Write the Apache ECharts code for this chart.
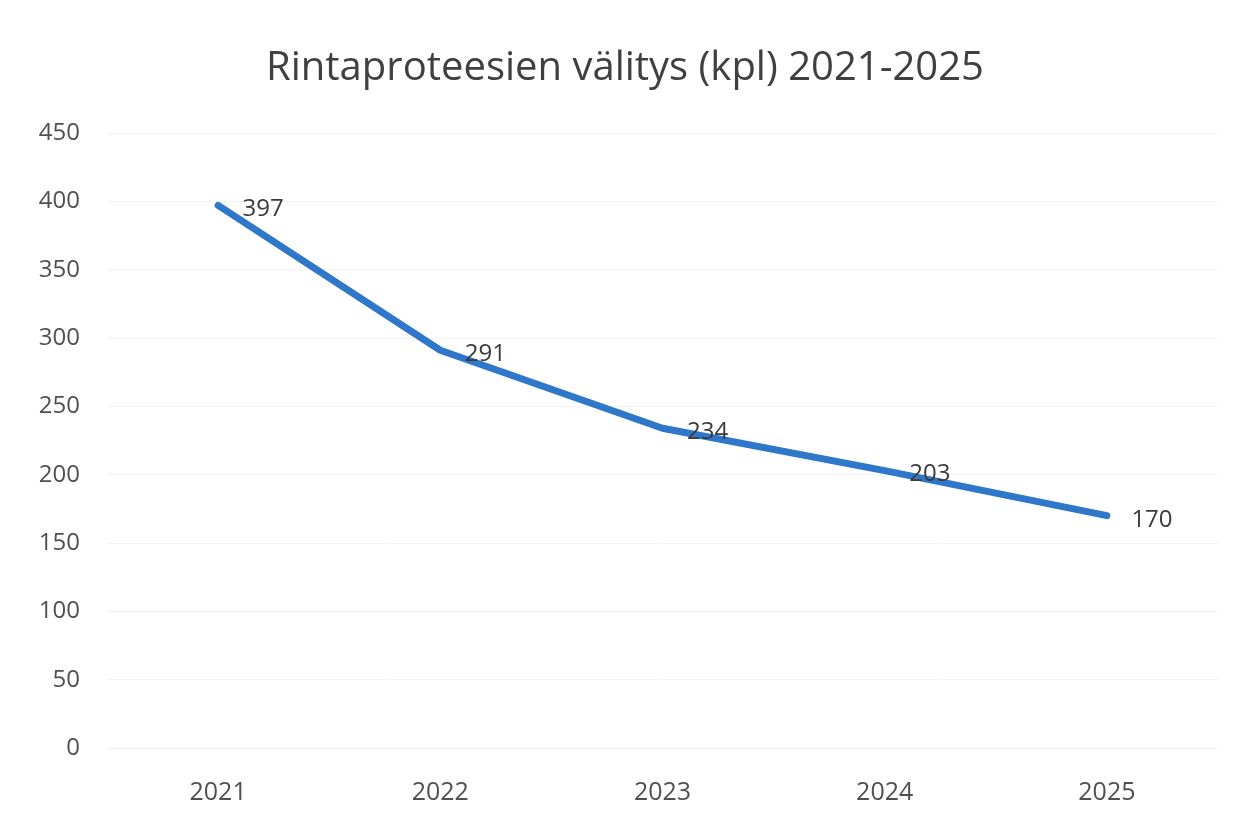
<!DOCTYPE html>
<html>
<head>
<meta charset="utf-8">
<script src="https://cdn.jsdelivr.net/npm/echarts@6/dist/echarts.min.js"></script>
<style>
  html, body { margin: 0; padding: 0; background: #fff; }
  #chart { width: 1250px; height: 825px; }
</style>
</head>
<body>
<div id="chart"></div>
<script>
// 数据
var years = ['2021', '2022', '2023', '2024', '2025']
var values = [397, 291, 234, 203, 170]
var yTicks = [0, 450, 50] // min, max, interval

var myChart = echarts.init(document.getElementById('chart'))
var options = {
  backgroundColor: '#ffffff',
  title: {
    text: 'Rintaproteesien välitys (kpl) 2021-2025',
    left: 'center',
    top: 44,
    textStyle: {
      fontFamily: 'Open Sans',
      fontWeight: 'normal',
      fontSize: 40,
      color: '#404040'
    }
  },
  grid: {
    left: 107,
    right: 32,
    top: 133,
    bottom: 77
  },
  xAxis: {
    type: 'category',
    data: years,
    boundaryGap: true,
    axisLine: { show: false },
    axisTick: { show: false },
    axisLabel: {
      color: '#505050',
      fontFamily: 'Open Sans',
      fontSize: 25,
      margin: 32
    }
  },
  yAxis: {
    type: 'value',
    min: yTicks[0],
    max: yTicks[1],
    interval: yTicks[2],
    axisLine: { show: false },
    axisTick: { show: false },
    axisLabel: {
      color: '#505050',
      fontFamily: 'Open Sans',
      fontSize: 24,
      margin: 27
    },
    // 极浅的网格线
    splitLine: {
      lineStyle: { color: '#f3f3f3', width: 1 }
    }
  },
  series: [
    {
      type: 'line',
      data: values,
      symbol: 'circle',
      symbolSize: 1,
      itemStyle: { color: '#2f78c9' },
      lineStyle: { color: '#2f78c9', width: 7, cap: 'round', join: 'round' },
      label: {
        show: true,
        position: 'right',
        distance: 24,
        offset: [0, 4],
        color: '#3a3a3a',
        fontFamily: 'Open Sans',
        fontSize: 24
      }
    }
  ]
}
myChart.setOption(options)
</script>
</body>
</html>
